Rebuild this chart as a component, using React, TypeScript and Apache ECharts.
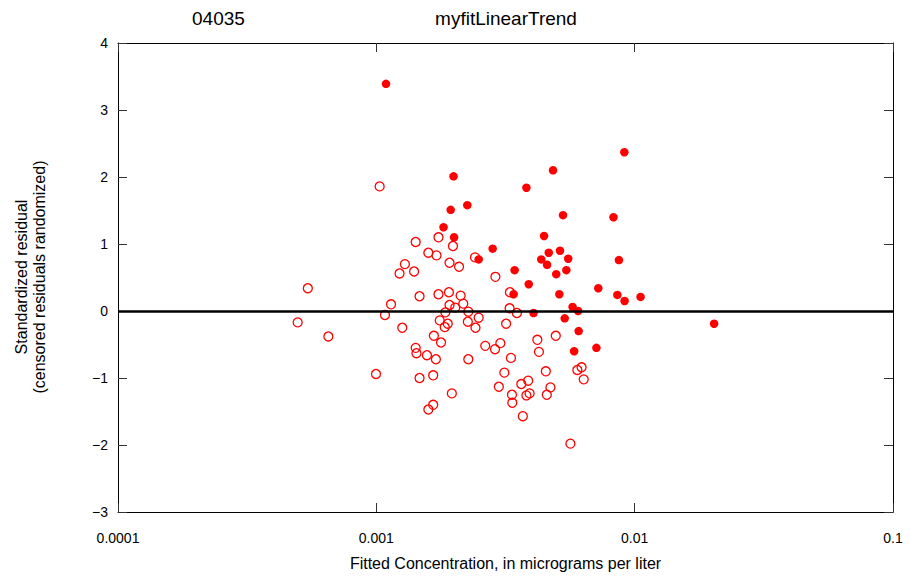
import React, { useEffect, useRef } from "react";
import * as echarts from "echarts";

const xTickLabels = ["0.0001", "0.001", "0.01", "0.1"];
const yTickLabels = ["−3", "−2", "−1", "0", "1", "2", "3", "4"];

// Uncensored observations (filled dots)
const filledX = [0.00109, 0.00199, 0.00912, 0.00483, 0.00381, 0.00225, 0.00194, 0.00528, 0.00828, 0.00182,
  0.002, 0.00446, 0.00282, 0.00249, 0.00514, 0.00465, 0.00435, 0.00458, 0.00553, 0.00869,
  0.00497, 0.00544, 0.00343, 0.00389, 0.0034, 0.00723, 0.00511, 0.00857, 0.00914, 0.01054,
  0.00575, 0.00604, 0.00406, 0.00536, 0.0203, 0.00607, 0.00583, 0.00711];
const filledY = [3.39, 2.01, 2.37, 2.1, 1.84, 1.58, 1.51, 1.43, 1.4, 1.25,
  1.1, 1.12, 0.93, 0.77, 0.9, 0.87, 0.77, 0.69, 0.78, 0.76,
  0.55, 0.61, 0.61, 0.4, 0.25, 0.34, 0.25, 0.24, 0.15, 0.21,
  0.06, 0.0, -0.03, -0.11, -0.19, -0.3, -0.6, -0.55];

// Censored observations (open circles)
const openX = [0.00103, 0.00174, 0.00142, 0.00159, 0.00171, 0.00198, 0.00241, 0.00129, 0.00123, 0.0014,
  0.00192, 0.00209, 0.00289, 0.000543, 0.00147, 0.00174, 0.00191, 0.00212, 0.00329, 0.00114,
  0.00192, 0.00217, 0.00202, 0.00328, 0.00185, 0.00227, 0.0035, 0.000496, 0.00108, 0.00249,
  0.00176, 0.00189, 0.00184, 0.00226, 0.00242, 0.00318, 0.000652, 0.00126, 0.00167, 0.00178,
  0.00302, 0.00264, 0.00288, 0.00142, 0.00143, 0.00157, 0.0017, 0.00227, 0.00332, 0.000997,
  0.00147, 0.00166, 0.00313, 0.00298, 0.00364, 0.00387, 0.00381, 0.00392, 0.00335, 0.00336,
  0.00196, 0.00369, 0.00159, 0.00166, 0.0042, 0.00495, 0.00426, 0.00453, 0.006, 0.00623,
  0.00635, 0.00472, 0.00457, 0.00564];
const openY = [1.86, 1.1, 1.03, 0.87, 0.83, 0.97, 0.8, 0.7, 0.56, 0.59,
  0.72, 0.66, 0.51, 0.34, 0.22, 0.25, 0.28, 0.23, 0.28, 0.1,
  0.09, 0.11, 0.05, 0.04, -0.02, -0.01, -0.03, -0.17, -0.06, -0.1,
  -0.14, -0.19, -0.24, -0.16, -0.25, -0.19, -0.38, -0.25, -0.37, -0.47,
  -0.48, -0.52, -0.57, -0.55, -0.63, -0.66, -0.72, -0.72, -0.7, -0.94,
  -1.0, -0.96, -0.92, -1.13, -1.09, -1.04, -1.26, -1.23, -1.25, -1.37,
  -1.23, -1.57, -1.47, -1.4, -0.43, -0.37, -0.61, -0.9, -0.88, -0.84,
  -1.02, -1.14, -1.25, -1.98];

const FONT = "Liberation Sans, Arial, sans-serif";

function xLabel(v: number): string {
  for (const s of xTickLabels) {
    const n = Number(s);
    if (Math.abs(v - n) / n < 1e-6) return s;
  }
  return "";
}
function yLabel(v: number): string {
  const r = Math.round(v);
  const s = yTickLabels.find((t) => Number(t.replace("−", "-")) === r);
  return s ?? String(r);
}

export default function App() {
  const ref = useRef<HTMLDivElement>(null);
  useEffect(() => {
    if (!ref.current) return;
    const chart = echarts.init(ref.current, null, { renderer: "svg" });
    const axisLine = { show: true, onZero: false, lineStyle: { color: "#000", width: 1 } };
    const tick = { show: true, inside: true, length: 9, lineStyle: { color: "#333", width: 1 } };
    const option = {
      animation: false,
      backgroundColor: "#fff",
      grid: { left: 118, right: 18, top: 43, bottom: 64, show: false },
      graphic: [
        { type: "text", left: 192, top: 9, style: { text: "04035", font: `19px ${FONT}`, fill: "#000" } },
        { type: "text", x: 506, y: 18, style: { text: "myfitLinearTrend", font: `19px ${FONT}`, fill: "#000", align: "center", verticalAlign: "middle" } },
        {
          type: "text", x: 30, y: 277, rotation: Math.PI / 2,
          style: {
            text: "Standardized residual\n(censored residuals randomized)",
            font: `16px ${FONT}`, fill: "#000", align: "center", verticalAlign: "middle", lineHeight: 18,
          },
        },
      ],
      xAxis: [
        {
          type: "log", logBase: 10, min: 0.0001, max: 0.1, position: "bottom",
          axisLine, axisTick: tick, splitLine: { show: false }, minorTick: { show: false },
          axisLabel: { formatter: xLabel, color: "#000", fontFamily: FONT, fontSize: 14, margin: 19 },
          name: "Fitted Concentration, in micrograms per liter", nameLocation: "middle", nameGap: 43,
          nameTextStyle: { color: "#000", fontFamily: FONT, fontSize: 16 },
        },
        {
          type: "log", logBase: 10, min: 0.0001, max: 0.1, position: "top",
          axisLine, axisTick: tick, splitLine: { show: false }, axisLabel: { show: false },
        },
      ],
      yAxis: [
        {
          type: "value", min: -3, max: 4, interval: 1, position: "left",
          axisLine, axisTick: tick, splitLine: { show: false },
          axisLabel: { formatter: yLabel, color: "#000", fontFamily: FONT, fontSize: 14, margin: 10 },
        },
        {
          type: "value", min: -3, max: 4, interval: 1, position: "right",
          axisLine, axisTick: tick, splitLine: { show: false }, axisLabel: { show: false },
        },
      ],
      series: [
        {
          name: "censored", type: "scatter", xAxisIndex: 0, yAxisIndex: 0,
          data: openX.map((x, i) => [x, openY[i]]),
          symbol: "circle", symbolSize: 9,
          itemStyle: { color: "rgba(0,0,0,0)", borderColor: "#ff0000", borderWidth: 1.3, opacity: 1 },
          markLine: {
            silent: true, symbol: ["none", "none"], label: { show: false },
            lineStyle: { color: "#000", width: 2.5, type: "solid" },
            data: [{ yAxis: 0 }],
          },
        },
        {
          name: "uncensored", type: "scatter", xAxisIndex: 0, yAxisIndex: 0,
          data: filledX.map((x, i) => [x, filledY[i]]),
          symbol: "circle", symbolSize: 8.5,
          itemStyle: { color: "#ff0000", opacity: 1 },
        },
      ],
    };
    chart.setOption(option as any);
    return () => chart.dispose();
  }, []);
  return (
    <div
      ref={ref}
      style={{ position: "fixed", left: 0, top: 0, width: 911, height: 576, background: "#fff" }}
    />
  );
}
